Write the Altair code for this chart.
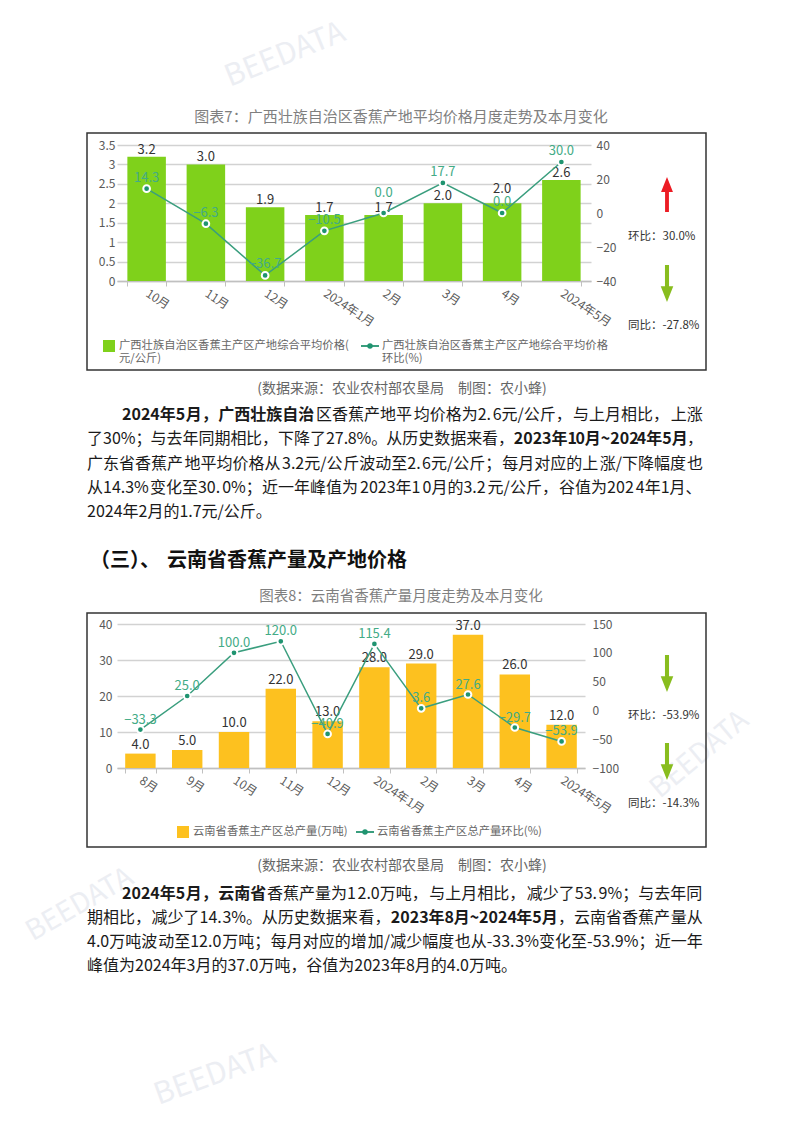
import json
import altair as alt
import pandas as pd

FONT = "Noto Sans CJK SC"

# ---------------- data: 图表7 广西 ----------------
gx_months = ["10月", "11月", "12月", "2024年1月", "2月", "3月", "4月", "2024年5月"]
gx_price = [3.2, 3.0, 1.9, 1.7, 1.7, 2.0, 2.0, 2.6]
gx_mom = [14.3, -6.3, -36.7, -10.5, 0.0, 17.7, 0.0, 30.0]
gx_left_ticks = [0, 0.5, 1, 1.5, 2, 2.5, 3, 3.5]
gx_right_ticks = [-40, -20, 0, 20, 40]

# ---------------- data: 图表8 云南 ----------------
yn_months = ["8月", "9月", "10月", "11月", "12月", "2024年1月", "2月", "3月", "4月", "2024年5月"]
yn_output = [4.0, 5.0, 10.0, 22.0, 13.0, 28.0, 29.0, 37.0, 26.0, 12.0]
yn_mom = [-33.3, 25.0, 100.0, 120.0, -40.9, 115.4, 3.6, 27.6, -29.7, -53.9]
yn_left_ticks = [0, 10, 20, 30, 40]
yn_right_ticks = [-100, -50, 0, 50, 100, 150]

GREEN_BAR = "#7fd11b"
YELLOW_BAR = "#fdc11f"
LINE_C = "#3a9e7e"
DOT_C = "#1f9470"
LINE_LBL = "#43ab86"
BAR_LBL = "#333333"
AXIS_LBL = "#595959"
GRID_C = "#d2d2d2"
RED_C = "#ec1c24"
ARROW_G = "#88bd1e"
TXT = "#1a1a1a"

ONE = pd.DataFrame({"k": [0]})

ARROW_DOWN = "M-0.11,-1L0.11,-1L0.11,0.15L0.34,0.15L0,1L-0.34,0.15L-0.11,0.15Z"
ARROW_UP = "M-0.11,1L0.11,1L0.11,-0.15L0.34,-0.15L0,-1L-0.34,-0.15L-0.11,-0.15Z"


def char_w(ch, fs, bold):
    if ord(ch) > 0x2E80:
        return fs
    if ch.isdigit():
        return fs * (0.575 if bold else 0.555)
    table = {".": 0.27, "%": 0.87, "/": 0.36, "~": 0.56, "-": 0.34,
             "(": 0.33, ")": 0.33, " ": 0.22}
    return fs * table.get(ch, 0.55)


class Section:
    def __init__(self, ox, oy):
        self.ox, self.oy = ox, oy
        self.layers = []

    def vx(self, px):
        return alt.value(px - self.ox)

    def vy(self, py):
        return alt.value(py - self.oy)

    def text(self, px, py, s, size=15, color=TXT, weight="normal", align="left",
             baseline="middle", angle=0, opacity=1.0):
        m = alt.Chart(ONE).mark_text(text=s, font=FONT, fontSize=size, color=color,
                                     fontWeight=weight, align=align, baseline=baseline,
                                     angle=angle, opacity=opacity)
        self.layers.append(m.encode(x=self.vx(px), y=self.vy(py)))

    def rect(self, x1, y1, x2, y2, fill="white", stroke=None, sw=0, fill_opacity=1.0):
        kw = dict(fill=fill, fillOpacity=fill_opacity, strokeWidth=sw)
        if stroke:
            kw["stroke"] = stroke
        m = alt.Chart(ONE).mark_rect(**kw)
        self.layers.append(m.encode(x=self.vx(x1), x2=self.vx(x2),
                                    y=self.vy(y1), y2=self.vy(y2)))

    def rule(self, x1, x2, y, color, sw):
        m = alt.Chart(ONE).mark_rule(color=color, strokeWidth=sw)
        self.layers.append(m.encode(x=self.vx(x1), x2=self.vx(x2), y=self.vy(y)))

    def symbol(self, px, py, shape, size, color, stroke=None, sw=0):
        kw = dict(shape=shape, size=size, filled=True, fill=color, opacity=1)
        if stroke:
            kw["stroke"] = stroke
            kw["strokeWidth"] = sw
        m = alt.Chart(ONE).mark_point(**kw)
        self.layers.append(m.encode(x=self.vx(px), y=self.vy(py)))

    def para_line(self, segs, x0, x1, y, fs=16, justify=True):
        chunks = []
        for t, b in segs:
            cur = ""
            for ch in t:
                cur += ch
                if ch in "，；。、：" or len(cur) >= 6:
                    chunks.append((cur, b))
                    cur = ""
            if cur:
                chunks.append((cur, b))
        widths = [sum(char_w(c, fs, b) for c in t) for t, b in chunks]
        nchar = sum(len(t) for t, _ in chunks)
        gap = (x1 - x0 - sum(widths)) / (nchar - 1) if (justify and nchar > 1) else 0
        x = x0
        for (t, b), w in zip(chunks, widths):
            self.text(x, y, t, size=fs, weight="bold" if b else "normal")
            x += w + gap * len(t)


def not_in(months):
    return f"indexof({json.dumps(months, ensure_ascii=False)}, datum.month) < 0"


def is_in(months):
    return f"indexof({json.dumps(months, ensure_ascii=False)}, datum.month) >= 0"


def data_layers(months, bar_vals, mom_vals, bar_color, bar_dom, bar_ticks, bar_fmt,
                mom_dom, mom_ticks, left_pad, right_pad, bar_dy, mom_dy,
                bar_lift=(), mom_lift=()):
    df = pd.DataFrame({"month": months, "value": bar_vals, "mom": mom_vals,
                       "idx": list(range(len(months)))})
    sc_x = alt.Scale(paddingInner=0.35, paddingOuter=0.175)
    x_axis = alt.Axis(labelAngle=33, labelAlign="left", labelBaseline="middle",
                      labelFont=FONT, labelFontSize=12, labelColor=AXIS_LBL,
                      labelPadding=6, domainColor="#c0c0c0", domainWidth=1.5,
                      tickColor="#c0c0c0", tickSize=5, tickBand="extent",
                      labelOverlap=False, grid=False, title=None)

    def X(center=False):
        kw = dict(sort=months, scale=sc_x, title=None, axis=x_axis)
        if center:
            kw["bandPosition"] = 0.5
        return alt.X("month:N", **kw)

    sc_bar = alt.Scale(domain=bar_dom, nice=False, zero=True)
    sc_mom = alt.Scale(domain=mom_dom, nice=False, zero=False)
    left_axis = alt.Axis(orient="left", values=bar_ticks, format=bar_fmt,
                         labelFontSize=12, labelColor=AXIS_LBL, labelPadding=left_pad,
                         tickSize=0, domain=False, grid=True, gridColor=GRID_C,
                         gridWidth=1.5, title=None)
    right_axis = alt.Axis(orient="right", values=mom_ticks, format="d",
                          labelFontSize=12, labelColor=AXIS_LBL, labelPadding=right_pad,
                          tickSize=0, domain=False, grid=False, title=None)

    base = alt.Chart(df)
    bar_lift = list(bar_lift)
    mom_lift = list(mom_lift)
    layers = []
    layers.append(base.mark_bar(color=bar_color).encode(
        x=X(), y=alt.Y("value:Q", scale=sc_bar, axis=left_axis)))

    def bar_text(dy):
        return base.mark_text(baseline="bottom", dy=dy, fontSize=13, color=BAR_LBL).encode(
            x=X(center=True), y=alt.Y("value:Q", scale=sc_bar, axis=None),
            text=alt.Text("value:Q", format=".1f"))

    def mom_text(dy):
        return base.mark_text(baseline="bottom", dy=dy, fontSize=13, color=LINE_LBL).encode(
            x=X(center=True), y=alt.Y("mom:Q", scale=sc_mom, axis=None),
            text=alt.Text("mom:Q", format=".1f"))

    if bar_lift:
        layers.append(bar_text(bar_dy).transform_filter(not_in(bar_lift)))
        layers.append(bar_text(bar_dy - 7).transform_filter(is_in(bar_lift)))
    else:
        layers.append(bar_text(bar_dy))
    layers.append(base.mark_line(color=LINE_C, strokeWidth=1.5).encode(
        x=X(center=True), y=alt.Y("mom:Q", scale=sc_mom, axis=right_axis),
        order=alt.Order("idx:Q")))
    layers.append(base.mark_point(filled=True, fill=DOT_C, stroke="white", strokeWidth=2,
                                  size=45, opacity=1).encode(
        x=X(center=True), y=alt.Y("mom:Q", scale=sc_mom, axis=None)))
    if mom_lift:
        layers.append(mom_text(mom_dy).transform_filter(not_in(mom_lift)))
        layers.append(mom_text(mom_dy - 9).transform_filter(is_in(mom_lift)))
    else:
        layers.append(mom_text(mom_dy))
    return layers


# ======================= Section A (page y 0..540) =======================
A = Section(117, 145)
A.rect(0, 0, 802, 540, fill="white", fill_opacity=0)
A.text(285, 55, "BEEDATA", size=30, color="#eceef3", align="center", angle=338)
A.text(401, 117, "图表7：广西壮族自治区香蕉产地平均价格月度走势及本月变化",
       size=15, color="#7f7f7f", align="center")
A.rect(87, 133, 706, 370, fill="white", stroke="#333333", sw=1.5, fill_opacity=0)
A.layers += data_layers(gx_months, gx_price, gx_mom, GREEN_BAR, [0, 3.5], gx_left_ticks,
                        ".1~f", [-40, 40], gx_right_ticks, 2, 5, 0, -4,
                        bar_lift=["4月"], mom_lift=["2月"])
# legend
A.rect(103, 340, 115, 352, fill=GREEN_BAR)
A.text(119, 346, "广西壮族自治区香蕉主产区产地综合平均价格(", size=11.3, color="#666666")
A.text(119, 359, "元/公斤)", size=11.3, color="#666666")
A.rule(361, 379, 346, LINE_C, 2)
A.symbol(370, 346, "circle", 30, DOT_C)
A.text(382, 346, "广西壮族自治区香蕉主产区产地综合平均价格", size=11.3, color="#666666")
A.text(382, 359, "环比(%)", size=11.3, color="#666666")
# right-side indicators
A.symbol(667, 194.5, ARROW_UP, 1225, RED_C)
A.text(628, 237, "环比：30.0%", size=11.5, color="#333333")
A.symbol(667, 283.5, ARROW_DOWN, 1369, ARROW_G)
A.text(628, 326, "同比：-27.8%", size=11.5, color="#333333")
# source + paragraph
A.text(402, 389, "(数据来源：农业农村部农垦局　制图：农小蜂)", size=14,
       color="#666666", align="center")
p1 = [
    ([("2024年5月，广西壮族自治", True),
      ("区香蕉产地平均价格为2.6元/公斤，与上月相比，上涨", False)], 122, True),
    ([("了30%；与去年同期相比，下降了27.8%。从历史数据来看，", False),
      ("2023年10月~2024年5月", True), ("，", False)], 87, True),
    ([("广东省香蕉产地平均价格从3.2元/公斤波动至2.6元/公斤；每月对应的上涨/下降幅度也", False)], 87, True),
    ([("从14.3%变化至30.0%；近一年峰值为2023年10月的3.2元/公斤，谷值为2024年1月、", False)], 87, True),
    ([("2024年2月的1.7元/公斤。", False)], 87, False),
]
for i, (segs, x0, just) in enumerate(p1):
    A.para_line(segs, x0, 703, 415 + 24.25 * i, justify=just)

secA = alt.layer(*A.layers).resolve_scale(y="independent").properties(width=474, height=136)

# ======================= Section B (page y 540..1133) =======================
B = Section(117, 624)
B.rect(0, 540, 802, 1133, fill="white", fill_opacity=0)
B.text(700, 755, "BEEDATA", size=28, color="#eceef3", align="center", angle=320)
B.text(80, 905, "BEEDATA", size=28, color="#eceef3", align="center", angle=330)
B.text(215, 1075, "BEEDATA", size=30, color="#eceef3", align="center", angle=340)
B.text(90, 561, "（三）、", size=20, color="#111111", weight="bold")
B.text(167, 561, "云南省香蕉产量及产地价格", size=20, color="#111111", weight="bold")
B.text(401, 597, "图表8：云南省香蕉产量月度走势及本月变化", size=14.5,
       color="#7f7f7f", align="center")
B.rect(87, 613, 706, 847, fill="white", stroke="#333333", sw=1.5, fill_opacity=0)
B.layers += data_layers(yn_months, yn_output, yn_mom, YELLOW_BAR, [0, 40], yn_left_ticks,
                        "d", [-100, 150], yn_right_ticks, 5, 7, -2, -3)
# legend
B.rect(177, 826, 189, 838, fill=YELLOW_BAR)
B.text(193, 832, "云南省香蕉主产区总产量(万吨)", size=11.3, color="#666666")
B.rule(356, 374, 832, LINE_C, 2)
B.symbol(365, 832, "circle", 30, DOT_C)
B.text(377, 832, "云南省香蕉主产区总产量环比(%)", size=11.3, color="#666666")
# right-side indicators
B.symbol(667, 673.5, ARROW_DOWN, 1369, ARROW_G)
B.text(628, 716, "环比：-53.9%", size=11.5, color="#333333")
B.symbol(667, 761.5, ARROW_DOWN, 1369, ARROW_G)
B.text(628, 804, "同比：-14.3%", size=11.5, color="#333333")
# source + paragraph
B.text(402, 866, "(数据来源：农业农村部农垦局　制图：农小蜂)", size=14,
       color="#666666", align="center")
p2 = [
    ([("2024年5月，云南省", True),
      ("香蕉产量为12.0万吨，与上月相比，减少了53.9%；与去年同", False)], 122, True),
    ([("期相比，减少了14.3%。从历史数据来看，", False),
      ("2023年8月~2024年5月", True), ("，云南省香蕉产量从", False)], 87, True),
    ([("4.0万吨波动至12.0万吨；每月对应的增加/减少幅度也从-33.3%变化至-53.9%；近一年", False)], 87, True),
    ([("峰值为2024年3月的37.0万吨，谷值为2023年8月的4.0万吨。", False)], 87, False),
]
for i, (segs, x0, just) in enumerate(p2):
    B.para_line(segs, x0, 703, 894 + 24.0 * i, justify=just)

secB = alt.layer(*B.layers).resolve_scale(y="independent").properties(width=468, height=144)

chart = alt.vconcat(secA, secB, spacing=0).properties(padding=0).configure(
    font=FONT, view=alt.ViewConfig(strokeWidth=0))

chart.save("out.html", embed_options={"renderer": "svg", "actions": False})
